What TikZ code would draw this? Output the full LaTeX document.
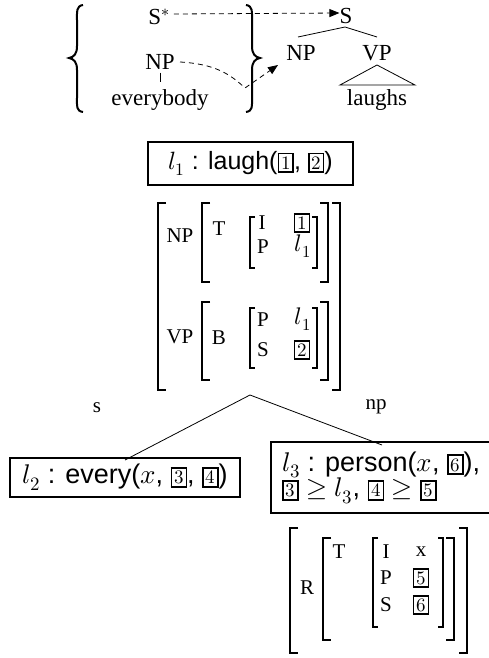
\documentclass[tikz,border=0pt]{standalone}
\usepackage{unicode-math}
\setmainfont{Liberation Serif}
\setsansfont{Liberation Sans}
\setmathfont{Latin Modern Math}
\usetikzlibrary{arrows.meta}
\newcommand\bx[1]{{\setlength{\fboxsep}{1.8pt}\setlength{\fboxrule}{1.7pt}\fbox{\fontsize{19}{19}\selectfont\vphantom{0}$#1$}}}
\newcommand\LB[4][8]{\draw (#2+#1,#3) -- (#2,#3) -- (#2,#4) -- (#2+#1,#4);}
\newcommand\RB[4][8]{\draw (#2-#1,#3) -- (#2,#3) -- (#2,#4) -- (#2-#1,#4);}
\newcommand\avml[1]{{\fontsize{24}{24}\selectfont$l_{#1}$}}
\tikzset{
  tree/.style={font=\fontsize{23}{27}\selectfont, inner sep=0pt},
  avm/.style={font=\fontsize{21}{25}\selectfont, inner sep=0pt},
  sem/.style={font=\sffamily\fontsize{25}{29}\selectfont, inner sep=0pt},
  semb/.style={font=\sffamily\fontsize{27}{30}\selectfont, inner sep=0pt},
  semframe/.style={draw, line width=2pt},
  dsh/.style={dash pattern=on 5pt off 4pt, line width=0.8pt},
  tip/.style={-{Triangle[length=10pt,width=8pt]}},
  thickbr/.style={line width=1.9pt},
  thinbr/.style={line width=1.3pt}
}
\begin{document}
\begin{tikzpicture}[x=1pt,y=-1pt]
\useasboundingbox (0,0) rectangle (489,658);
% braces
\draw[line width=2pt] (83,5) .. controls (76,6) and (77,12) .. (77,20) -- (77,46) .. controls (77,54) and (74,57) .. (69,58) .. controls (74,59) and (77,62) .. (77,70) -- (77,98) .. controls (77,106) and (76,111) .. (83,112);
\draw[line width=2pt] (246,5) .. controls (253,6) and (252,12) .. (252,20) -- (252,46) .. controls (252,54) and (255,57) .. (260,58) .. controls (255,59) and (252,62) .. (252,70) -- (252,98) .. controls (252,106) and (253,111) .. (246,112);
% left tree pieces
\node[tree] (sstar) at (159,17) {S$^{*}$};
\node[tree] (np0) at (160,62) {NP};
\node[tree] (every) at (160,100) {everybody};
\draw[line width=0.8pt] (np0.south) ++(0,3) coordinate (a1) -- ++(0,9) coordinate (a2);
% right tree
\node[tree] (s) at (346,16) {S};
\node[tree] (np) at (301,53) {NP};
\node[tree] (vp) at (377,53) {VP};
\node[tree] (laughs) at (377,100) {laughs};
\coordinate (sb) at (345,27);
\coordinate (npt) at (298,37);
\coordinate (vpt) at (377,37);
\draw[line width=0.8pt] (npt) -- (sb) -- (vpt);
\coordinate (tri) at (377,65);
\draw[line width=0.8pt] (tri) -- (340,85) -- (415,85) -- cycle;
% dashed arrows
\draw[dsh,tip] (sstar.east) ++(4,-3) -- (s.west |- 0,13);
\coordinate (kink) at (245,88);
\draw[dsh,tip] (180,62) .. controls (215,64) and (230,74) .. (kink) -- (278,65);
% l1 box
\node[sem, semframe, minimum width=205pt, minimum height=43pt] (l1) at (250.5,163.5) {$l_1$ : laugh(\bx1, \bx2)};
% AVM 1
\begin{scope}[thickbr]
\LB{158}{203}{390}\RB{340}{203}{390}
\LB{202}{203}{282}\RB{328}{203}{282}
\LB{202}{302}{380}\RB{328}{302}{380}
\end{scope}
\begin{scope}[thinbr]
\LB[5]{250}{217}{268}\RB[5]{317}{217}{268}
\LB[5]{250}{308}{368}\RB[5]{317}{308}{368}
\end{scope}
\node[avm] (anp) at (180,236) {NP};
\node[avm] (at) at (219,229) {T};
\node[avm] (ai) at (262,223) {I};
\node[avm] (ab1) at (302,223) {\bx1};
\node[avm] (ap) at (263,247) {P};
\node[avm] (al1) at (303,246) {\avml1};
\node[avm] (avp) at (180,337) {VP};
\node[avm] (ab) at (219,338) {B};
\node[avm] (ap2) at (263,320) {P};
\node[avm] (al12) at (303,319) {\avml1};
\node[avm] (as) at (263,350) {S};
\node[avm] (ab2) at (302,350) {\bx2};
% branching
\coordinate (apex) at (250,395);
\coordinate (lend) at (125,460);
\coordinate (rend) at (382,445);
\draw[line width=0.8pt] (lend) -- (apex) -- (rend);
\node[avm] (slab) at (97,408) {s};
\node[avm] (nplab) at (376,407) {np};
% l2 box
\node[semb, semframe, minimum width=230pt, minimum height=39pt] (l2) at (125,477.5) {$l_2$ : every($x$, \bx3, \bx4)};
% l3 box
\draw[semframe] (496,442) -- (271,442) -- (271,513) -- (496,513);
\node[semb, anchor=west] (l3a) at (282,465) {$l_3$ : person($x$, \bx6),};
\node[semb, anchor=west] (l3b) at (282,491) {\bx3 $\geq l_3$, \bx4 $\geq$ \bx5};
% AVM 2
\begin{scope}[thickbr]
\LB{290}{528}{653}\RB{467}{528}{653}
\LB{323}{538}{640}\RB{454}{538}{640}
\end{scope}
\begin{scope}[thinbr]
\LB[5]{373}{538}{627}\RB[5]{443}{538}{627}
\end{scope}
\node[avm] (rr) at (307,588) {R};
\node[avm] (rt) at (339,552) {T};
\node[avm] (ri) at (386,552) {I};
\node[avm] (rx) at (421,552) {x};
\node[avm] (rp) at (386,578) {P};
\node[avm] (rb5) at (421,578) {\bx5};
\node[avm] (rs) at (386,605) {S};
\node[avm] (rb6) at (421,605) {\bx6};
\end{tikzpicture}
\end{document}
